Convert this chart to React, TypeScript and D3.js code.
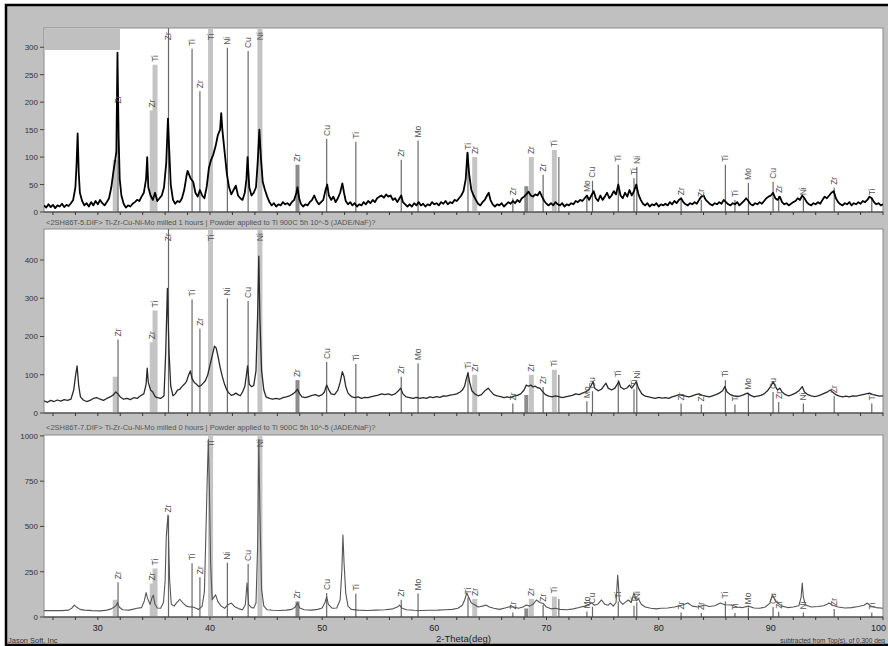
import React from "react";
import * as d3 from "d3";

// 2-theta range and tick labels
const thetaRange = [25.2, 100];
const thetaTicks = [30, 40, 50, 60, 70, 80, 90, 100];
const topTicks = [0, 50, 100, 150, 200, 250, 300];
const midTicks = [0, 100, 200, 300, 400];
const botTicks = [0, 250, 500, 750, 1000];

const midTitle =
  "<2SH86T-5.DIF> Ti-Zr-Cu-Ni-Mo milled 1 hours | Powder applied to Ti 900C 5h 10^-5 (JADE/NaF)?";
const botTitle =
  "<2SH86T-7.DIF> Ti-Zr-Cu-Ni-Mo milled 0 hours | Powder applied to Ti 900C 5h 10^-5 (JADE/NaF)?";

// scan 1 (top): [2-theta, counts]
const topPattern: [number, number][] = [
  [25.2, 12], [25.4, 8], [25.6, 14], [25.8, 9], [26.0, 13], [26.2, 7], [26.4, 12], [26.6, 10], [26.8, 15], [27.0, 9],
  [27.2, 13], [27.4, 11], [27.6, 16], [27.8, 22], [28.0, 45], [28.1, 85], [28.2, 143], [28.3, 70], [28.4, 35], [28.6, 20],
  [28.8, 12], [29.0, 16], [29.2, 10], [29.4, 18], [29.6, 12], [29.8, 20], [30.0, 14], [30.2, 22], [30.4, 16], [30.6, 12],
  [30.8, 18], [31.0, 25], [31.2, 45], [31.4, 75], [31.55, 95], [31.65, 110], [31.75, 290], [31.85, 140], [31.95, 60], [32.1, 30],
  [32.3, 15], [32.5, 8], [32.7, 12], [32.9, 10], [33.1, 15], [33.3, 18], [33.5, 22], [33.7, 20], [33.9, 28], [34.1, 35],
  [34.3, 60], [34.4, 100], [34.5, 45], [34.7, 30], [34.9, 22], [35.1, 35], [35.3, 20], [35.5, 25], [35.7, 30], [35.9, 45],
  [36.1, 90], [36.25, 170], [36.35, 120], [36.5, 50], [36.7, 22], [36.9, 15], [37.1, 20], [37.3, 18], [37.5, 25], [37.7, 40],
  [37.9, 65], [38.0, 75], [38.1, 70], [38.3, 60], [38.5, 55], [38.7, 35], [38.9, 28], [39.1, 40], [39.3, 30], [39.5, 25],
  [39.7, 45], [39.9, 80], [40.1, 95], [40.3, 105], [40.5, 120], [40.7, 140], [40.9, 150], [41.0, 180], [41.1, 150], [41.3, 110],
  [41.5, 70], [41.7, 45], [41.9, 32], [42.1, 40], [42.3, 48], [42.5, 30], [42.7, 25], [42.9, 22], [43.1, 35], [43.25, 60],
  [43.35, 100], [43.5, 45], [43.7, 30], [43.9, 35], [44.1, 45], [44.25, 90], [44.4, 150], [44.55, 95], [44.7, 55], [44.9, 40],
  [45.1, 28], [45.3, 18], [45.5, 12], [45.7, 16], [45.9, 10], [46.1, 14], [46.3, 12], [46.5, 18], [46.7, 14], [46.9, 16],
  [47.1, 12], [47.3, 18], [47.5, 22], [47.7, 35], [47.8, 45], [47.95, 25], [48.1, 15], [48.3, 10], [48.5, 14], [48.7, 12],
  [48.9, 18], [49.1, 22], [49.3, 30], [49.5, 20], [49.7, 14], [49.9, 18], [50.1, 22], [50.3, 40], [50.45, 50], [50.6, 30],
  [50.8, 22], [51.0, 28], [51.2, 18], [51.4, 25], [51.6, 35], [51.8, 52], [51.95, 35], [52.1, 20], [52.3, 14], [52.5, 18],
  [52.7, 12], [52.9, 16], [53.1, 10], [53.3, 14], [53.5, 12], [53.7, 18], [53.9, 14], [54.1, 20], [54.3, 16], [54.5, 22],
  [54.7, 18], [54.9, 25], [55.1, 28], [55.3, 30], [55.5, 26], [55.7, 32], [55.9, 28], [56.1, 30], [56.3, 22], [56.5, 25],
  [56.7, 18], [56.9, 25], [57.05, 30], [57.2, 18], [57.4, 14], [57.6, 10], [57.8, 14], [58.0, 10], [58.2, 16], [58.4, 12],
  [58.6, 18], [58.8, 12], [59.0, 15], [59.2, 10], [59.4, 14], [59.6, 12], [59.8, 18], [60.0, 14], [60.2, 16], [60.4, 12],
  [60.6, 18], [60.8, 15], [61.0, 20], [61.2, 14], [61.4, 18], [61.6, 16], [61.8, 22], [62.0, 20], [62.2, 25], [62.4, 30],
  [62.6, 38], [62.8, 60], [62.95, 108], [63.1, 70], [63.3, 40], [63.5, 30], [63.7, 22], [63.9, 15], [64.1, 12], [64.3, 18],
  [64.5, 22], [64.7, 30], [64.85, 35], [65.0, 22], [65.2, 14], [65.4, 10], [65.6, 14], [65.8, 12], [66.0, 16], [66.2, 10],
  [66.4, 14], [66.6, 18], [66.8, 15], [67.0, 20], [67.2, 16], [67.4, 22], [67.6, 18], [67.8, 25], [68.0, 28], [68.2, 32],
  [68.4, 37], [68.6, 30], [68.8, 28], [69.0, 32], [69.2, 30], [69.4, 37], [69.6, 28], [69.8, 20], [70.0, 15], [70.2, 12],
  [70.4, 16], [70.6, 12], [70.8, 18], [71.0, 14], [71.2, 12], [71.4, 16], [71.6, 10], [71.8, 14], [72.0, 12], [72.2, 16],
  [72.4, 14], [72.6, 20], [72.8, 18], [73.0, 22], [73.2, 20], [73.4, 25], [73.6, 30], [73.8, 22], [74.0, 30], [74.2, 38],
  [74.4, 25], [74.6, 20], [74.8, 30], [75.0, 22], [75.2, 28], [75.4, 35], [75.6, 25], [75.8, 30], [76.0, 38], [76.2, 32],
  [76.4, 50], [76.6, 30], [76.8, 25], [77.0, 35], [77.2, 28], [77.4, 40], [77.6, 30], [77.8, 38], [78.0, 50], [78.2, 32],
  [78.4, 22], [78.6, 15], [78.8, 12], [79.0, 16], [79.2, 10], [79.4, 14], [79.6, 12], [79.8, 16], [80.0, 10], [80.2, 14],
  [80.4, 12], [80.6, 15], [80.8, 12], [81.0, 18], [81.2, 14], [81.4, 20], [81.6, 16], [81.8, 22], [82.0, 25], [82.2, 18],
  [82.4, 14], [82.6, 12], [82.8, 16], [83.0, 14], [83.2, 18], [83.4, 15], [83.6, 22], [83.8, 28], [84.0, 30], [84.2, 22],
  [84.4, 18], [84.6, 14], [84.8, 12], [85.0, 16], [85.2, 14], [85.4, 18], [85.6, 15], [85.8, 22], [86.0, 18], [86.2, 14],
  [86.4, 12], [86.6, 16], [86.8, 14], [87.0, 18], [87.2, 12], [87.4, 16], [87.6, 20], [87.8, 25], [88.0, 20], [88.2, 14],
  [88.4, 12], [88.6, 16], [88.8, 14], [89.0, 18], [89.2, 15], [89.4, 20], [89.6, 25], [89.8, 28], [90.0, 30], [90.2, 35],
  [90.4, 25], [90.6, 22], [90.8, 28], [91.0, 18], [91.2, 14], [91.4, 16], [91.6, 12], [91.8, 15], [92.0, 18], [92.2, 20],
  [92.4, 25], [92.6, 22], [92.8, 30], [93.0, 25], [93.2, 18], [93.4, 14], [93.6, 12], [93.8, 16], [94.0, 14], [94.2, 18],
  [94.4, 15], [94.6, 22], [94.8, 28], [95.0, 25], [95.2, 30], [95.4, 35], [95.6, 38], [95.8, 25], [96.0, 18], [96.2, 14],
  [96.4, 12], [96.6, 16], [96.8, 14], [97.0, 18], [97.2, 12], [97.4, 16], [97.6, 14], [97.8, 18], [98.0, 15], [98.2, 20],
  [98.4, 18], [98.6, 22], [98.8, 28], [99.0, 25], [99.2, 18], [99.4, 14], [99.6, 16], [99.8, 12], [100.0, 14],
];

// scan 2 (middle)
const midPattern: [number, number][] = [
  [25.2, 32], [25.5, 28], [25.8, 33], [26.1, 30], [26.4, 34], [26.7, 31], [27.0, 35], [27.3, 33], [27.6, 36], [27.85, 60],
  [28.0, 95], [28.15, 123], [28.3, 70], [28.45, 42], [28.7, 34], [29.0, 30], [29.3, 33], [29.6, 38], [29.9, 40], [30.2, 36],
  [30.5, 33], [30.8, 38], [31.1, 42], [31.4, 48], [31.6, 55], [31.8, 50], [32.0, 42], [32.3, 36], [32.6, 38], [32.9, 35],
  [33.2, 40], [33.5, 38], [33.8, 45], [34.1, 50], [34.3, 75], [34.4, 117], [34.5, 80], [34.7, 60], [34.9, 55], [35.1, 43],
  [35.3, 40], [35.6, 38], [35.9, 45], [36.05, 157], [36.2, 326], [36.35, 157], [36.5, 70], [36.7, 45], [36.9, 50], [37.1, 60],
  [37.3, 62], [37.5, 69], [37.7, 75], [37.9, 82], [38.1, 100], [38.25, 110], [38.4, 90], [38.6, 80], [38.8, 75], [39.0, 69],
  [39.2, 72], [39.4, 78], [39.6, 85], [39.8, 100], [40.0, 125], [40.2, 150], [40.4, 175], [40.55, 170], [40.7, 150], [40.9, 120],
  [41.1, 95], [41.3, 75], [41.5, 60], [41.7, 52], [41.9, 46], [42.1, 48], [42.3, 52], [42.5, 48], [42.7, 45], [42.9, 55],
  [43.1, 69], [43.25, 100], [43.35, 123], [43.5, 75], [43.7, 69], [43.9, 72], [44.1, 110], [44.25, 260], [44.35, 410], [44.45, 243],
  [44.6, 110], [44.8, 60], [45.0, 42], [45.3, 38], [45.6, 36], [45.9, 38], [46.2, 36], [46.5, 40], [46.8, 42], [47.1, 45],
  [47.4, 50], [47.6, 55], [47.8, 62], [48.0, 50], [48.2, 42], [48.5, 40], [48.8, 43], [49.1, 46], [49.4, 48], [49.7, 44],
  [50.0, 48], [50.2, 55], [50.4, 73], [50.6, 60], [50.8, 50], [51.1, 48], [51.4, 60], [51.6, 80], [51.8, 108], [51.95, 95],
  [52.1, 70], [52.3, 52], [52.6, 43], [52.9, 40], [53.2, 42], [53.5, 38], [53.8, 41], [54.1, 40], [54.4, 43], [54.7, 45],
  [55.0, 47], [55.3, 50], [55.6, 48], [55.9, 50], [56.2, 47], [56.5, 50], [56.8, 58], [57.0, 65], [57.2, 50], [57.5, 42],
  [57.8, 40], [58.1, 38], [58.4, 41], [58.7, 38], [59.0, 40], [59.3, 38], [59.6, 42], [59.9, 40], [60.2, 43], [60.5, 41],
  [60.8, 45], [61.1, 44], [61.4, 47], [61.7, 48], [62.0, 50], [62.3, 55], [62.5, 60], [62.7, 70], [62.85, 90], [63.0, 104],
  [63.15, 80], [63.35, 58], [63.6, 50], [63.9, 45], [64.2, 48], [64.5, 58], [64.8, 65], [65.0, 58], [65.3, 48], [65.6, 45],
  [65.9, 43], [66.2, 40], [66.5, 42], [66.8, 40], [67.1, 44], [67.4, 46], [67.7, 50], [68.0, 60], [68.2, 73], [68.4, 70],
  [68.6, 73], [68.8, 68], [69.0, 70], [69.2, 66], [69.4, 65], [69.6, 58], [69.9, 48], [70.2, 44], [70.5, 42], [70.8, 45],
  [71.1, 43], [71.4, 40], [71.7, 42], [72.0, 44], [72.3, 46], [72.6, 50], [72.9, 48], [73.2, 52], [73.5, 55], [73.8, 62],
  [74.0, 73], [74.15, 82], [74.3, 65], [74.6, 58], [74.9, 62], [75.1, 70], [75.3, 78], [75.5, 65], [75.8, 60], [76.1, 65],
  [76.3, 75], [76.45, 82], [76.6, 68], [76.9, 62], [77.2, 66], [77.4, 73], [77.6, 65], [77.85, 75], [78.0, 82], [78.2, 65],
  [78.5, 50], [78.8, 44], [79.1, 42], [79.4, 40], [79.7, 38], [80.0, 41], [80.3, 39], [80.6, 40], [80.9, 38], [81.2, 42],
  [81.5, 45], [81.8, 48], [82.1, 46], [82.4, 44], [82.7, 42], [83.0, 45], [83.3, 48], [83.6, 50], [83.9, 46], [84.2, 44],
  [84.5, 42], [84.8, 45], [85.1, 48], [85.4, 52], [85.7, 58], [85.9, 69], [86.1, 55], [86.4, 48], [86.7, 45], [87.0, 43],
  [87.3, 45], [87.6, 48], [87.9, 52], [88.2, 46], [88.5, 42], [88.8, 44], [89.1, 46], [89.4, 50], [89.7, 58], [90.0, 70],
  [90.2, 82], [90.4, 70], [90.6, 60], [90.8, 65], [91.0, 55], [91.3, 48], [91.6, 45], [91.9, 48], [92.2, 52], [92.5, 58],
  [92.8, 69], [93.0, 55], [93.3, 48], [93.6, 45], [93.9, 43], [94.2, 45], [94.5, 48], [94.8, 52], [95.1, 56], [95.3, 60],
  [95.5, 55], [95.8, 48], [96.1, 44], [96.4, 42], [96.7, 44], [97.0, 42], [97.3, 45], [97.6, 44], [97.9, 46], [98.2, 48],
  [98.5, 50], [98.8, 52], [99.1, 48], [99.4, 46], [99.7, 44], [100.0, 45],
];

// scan 3 (bottom)
const botPattern: [number, number][] = [
  [25.2, 35], [26.0, 36], [26.8, 35], [27.4, 38], [27.7, 50], [27.9, 66], [28.1, 55], [28.4, 42], [28.8, 38], [29.5, 35],
  [30.2, 34], [30.8, 38], [31.2, 45], [31.5, 57], [31.65, 65], [31.75, 80], [31.9, 55], [32.2, 40], [32.8, 38], [33.5, 48],
  [33.9, 52], [34.15, 90], [34.3, 135], [34.45, 100], [34.65, 70], [34.85, 110], [34.95, 120], [35.1, 70], [35.3, 50], [35.6, 48],
  [35.85, 80], [36.0, 200], [36.1, 443], [36.25, 563], [36.4, 204], [36.55, 70], [36.8, 60], [37.0, 77], [37.3, 98], [37.6, 77],
  [37.9, 60], [38.2, 55], [38.4, 57], [38.7, 50], [39.0, 42], [39.3, 60], [39.5, 140], [39.65, 500], [39.75, 757], [39.85, 980],
  [39.95, 700], [40.05, 300], [40.2, 95], [40.35, 110], [40.5, 122], [40.7, 85], [41.0, 60], [41.3, 48], [41.6, 68], [41.9, 77],
  [42.2, 57], [42.6, 45], [42.9, 40], [43.15, 68], [43.3, 188], [43.45, 68], [43.7, 52], [43.9, 50], [44.1, 77], [44.25, 400],
  [44.35, 980], [44.45, 575], [44.6, 150], [44.8, 60], [45.1, 40], [45.6, 37], [46.2, 36], [46.8, 38], [47.3, 42], [47.6, 55],
  [47.8, 77], [48.0, 50], [48.4, 40], [49.0, 38], [49.6, 42], [50.0, 50], [50.25, 80], [50.4, 112], [50.55, 70], [50.9, 48],
  [51.3, 50], [51.6, 94], [51.75, 250], [51.85, 453], [51.95, 300], [52.1, 133], [52.3, 60], [52.6, 42], [53.2, 38], [54.0, 36],
  [54.8, 38], [55.6, 40], [56.3, 45], [56.7, 55], [56.9, 66], [57.1, 50], [57.5, 40], [58.2, 37], [58.8, 36], [59.5, 37],
  [60.3, 38], [61.0, 40], [61.6, 42], [62.1, 48], [62.5, 65], [62.7, 94], [62.9, 133], [63.05, 110], [63.3, 77], [63.6, 68],
  [63.9, 55], [64.3, 60], [64.6, 66], [64.9, 55], [65.3, 48], [65.8, 42], [66.3, 50], [66.7, 57], [67.1, 55], [67.5, 48],
  [67.9, 55], [68.2, 66], [68.5, 60], [68.8, 70], [69.1, 94], [69.4, 80], [69.7, 75], [70.0, 55], [70.4, 45], [70.8, 48],
  [71.2, 42], [71.8, 40], [72.4, 45], [72.9, 52], [73.4, 60], [73.8, 70], [74.0, 77], [74.3, 65], [74.6, 72], [74.9, 94],
  [75.2, 70], [75.5, 65], [75.7, 77], [75.95, 60], [76.2, 80], [76.35, 232], [76.5, 90], [76.8, 70], [77.1, 85], [77.3, 94],
  [77.55, 80], [77.8, 133], [78.0, 90], [78.2, 100], [78.45, 70], [78.8, 55], [79.3, 48], [79.8, 45], [80.2, 48], [80.8, 50],
  [81.4, 55], [81.9, 62], [82.3, 70], [82.6, 77], [83.0, 60], [83.5, 55], [84.1, 66], [84.5, 58], [85.0, 62], [85.5, 77],
  [85.9, 68], [86.5, 66], [87.0, 55], [87.5, 52], [88.0, 60], [88.5, 50], [89.0, 48], [89.5, 55], [89.9, 75], [90.15, 122],
  [90.4, 90], [90.6, 77], [91.0, 60], [91.5, 52], [92.0, 55], [92.5, 62], [92.7, 110], [92.8, 188], [92.9, 110], [93.1, 66],
  [93.6, 55], [94.2, 58], [94.7, 62], [95.0, 70], [95.2, 77], [95.5, 65], [96.0, 55], [96.6, 50], [97.2, 52], [97.8, 58],
  [98.3, 65], [98.6, 77], [98.9, 60], [99.4, 52], [100.0, 48],
];

// reference pattern sticks: [2-theta, intensity, phase label, kind]
const sticks: [number, number, string, string][] = [
  [31.55, 95, "", "bar"],
  [31.8, 192, "Zr", "line"],
  [34.85, 185, "Zr", "bar"],
  [35.1, 268, "Ti", "bar"],
  [36.3, 560, "Zr", "line"],
  [38.4, 297, "Ti", "line"],
  [39.1, 220, "Zr", "line"],
  [40.05, 1000, "Ti", "bar"],
  [41.55, 299, "Ni", "line"],
  [43.4, 293, "Cu", "line"],
  [44.45, 1000, "Ni", "bar"],
  [47.8, 86, "Zr", "dark"],
  [50.4, 133, "Cu", "line"],
  [53.0, 128, "Ti", "line"],
  [57.05, 95, "Zr", "line"],
  [58.55, 130, "Mo", "line"],
  [63.0, 108, "Ti", "line"],
  [63.6, 100, "Zr", "bar"],
  [67.0, 25, "Zr", "line"],
  [68.2, 47, "", "dark"],
  [68.65, 100, "Zr", "bar"],
  [69.7, 68, "Zr", "line"],
  [70.7, 113, "Ti", "bar"],
  [71.1, 100, "", "line"],
  [73.6, 31, "Mo", "line"],
  [74.1, 57, "Cu", "line"],
  [76.4, 86, "Ti", "line"],
  [77.8, 62, "Ti", "line"],
  [78.05, 82, "Ni", "line"],
  [82.0, 25, "Zr", "line"],
  [83.8, 22, "Zr", "line"],
  [85.95, 86, "Ti", "line"],
  [86.8, 22, "Ti", "line"],
  [88.0, 53, "Mo", "line"],
  [90.2, 55, "Cu", "line"],
  [90.7, 29, "Zr", "line"],
  [92.9, 25, "Ni", "line"],
  [95.65, 44, "Zr", "line"],
  [99.0, 25, "Ti", "line"],
];

const W = 888;
const H = 646;
const L = 44;
const R = 883;
const font = "'Liberation Sans', Arial, sans-serif";

const panels = [
  { id: "p1", top: 28, bottom: 212, max: 335, ticks: topTicks, data: topPattern, color: "#000", lw: 1.8 },
  { id: "p2", top: 229, bottom: 413, max: 481, ticks: midTicks, data: midPattern, color: "#2a2a2a", lw: 1.3 },
  { id: "p3", top: 435, bottom: 617, max: 1005, ticks: botTicks, data: botPattern, color: "#555", lw: 1.1 },
];

const stickStyle: Record<string, { stroke: string; width: number }> = {
  line: { stroke: "#6a6a6a", width: 1.2 },
  bar: { stroke: "#c4c4c4", width: 5 },
  dark: { stroke: "#8c8c8c", width: 4 },
};

const x = d3.scaleLinear().domain(thetaRange).range([L, R]);
const minorTicks = d3.range(26, 100.1, 2);

const Panel = ({ p }: { p: (typeof panels)[number] }) => {
  const y = d3.scaleLinear().domain([0, p.max]).range([p.bottom, p.top]);
  const line = d3
    .line<[number, number]>()
    .x((d) => x(d[0]))
    .y((d) => y(d[1]));
  const fs = 8.5;
  return (
    <g>
      <clipPath id={"clip-" + p.id}>
        <rect x={L} y={p.top} width={R - L} height={p.bottom - p.top} />
      </clipPath>
      <rect x={L} y={p.top} width={R - L} height={p.bottom - p.top} fill="#fff" stroke="#8a8a8a" />
      <g clipPath={`url(#clip-${p.id})`}>
        {p.id === "p1" && <rect x={L} y={p.top + 1} width={76} height={21} fill="#c0c0c0" />}
        {sticks.map(([t, v, , kind], i) => (
          <line
            key={i}
            x1={x(t)}
            x2={x(t)}
            y1={p.bottom}
            y2={y(v)}
            stroke={stickStyle[kind].stroke}
            strokeWidth={stickStyle[kind].width}
          />
        ))}
        <path d={line(p.data) || ""} fill="none" stroke={p.color} strokeWidth={p.lw} strokeLinejoin="round" />
        {sticks
          .filter((s) => s[2])
          .map(([t, v, label], i) => {
            const len = label.length * fs * 0.6;
            let ty = y(v) - 3;
            if (ty - len < p.top + 2) ty = p.top + 2 + len;
            return (
              <text
                key={i}
                transform={`translate(${x(t) + fs * 0.35},${ty}) rotate(-90)`}
                fontSize={fs}
                fontFamily={font}
                fill="#555"
              >
                {label}
              </text>
            );
          })}
      </g>
      <line x1={L} x2={R} y1={p.bottom} y2={p.bottom} stroke="#333" strokeWidth={1.2} />
      {minorTicks.map((t) => (
        <line key={t} x1={x(t)} x2={x(t)} y1={p.bottom} y2={p.bottom + 3} stroke="#333" />
      ))}
      {p.ticks.map((v) => (
        <g key={v}>
          <line x1={L - 4} x2={L} y1={y(v)} y2={y(v)} stroke="#444" />
          <text x={L - 6} y={y(v) + 3} textAnchor="end" fontSize={8} fontFamily={font} fill="#333">
            {v}
          </text>
        </g>
      ))}
    </g>
  );
};

export default function App() {
  return (
    <svg width={W} height={H} style={{ position: "absolute", left: 0, top: 0 }}>
      <rect x={0} y={0} width={W} height={H} fill="#fff" />
      <rect x={6} y={5} width={W} height={640} fill="#c0c0c0" stroke="#000" strokeWidth={2.5} />
      {panels.map((p) => (
        <Panel key={p.id} p={p} />
      ))}
      <text x={L + 2} y={225} fontSize={7.5} fontFamily={font} fill="#555">
        {midTitle}
      </text>
      <text x={L + 2} y={430} fontSize={7.5} fontFamily={font} fill="#555">
        {botTitle}
      </text>
      {thetaTicks.map((t, i) => {
        const last = i === thetaTicks.length - 1;
        return (
          <text
            key={t}
            x={last ? x(t) + 3 : x(t)}
            y={631}
            textAnchor={last ? "end" : "middle"}
            fontSize={9}
            fontFamily={font}
            fill="#222"
          >
            {t}
          </text>
        );
      })}
      <text x={x(62.6)} y={642} textAnchor="middle" fontSize={9.5} fontFamily={font} fill="#222">
        2-Theta(deg)
      </text>
      <text x={8} y={643} fontSize={7.5} fontFamily={font} fill="#333">
        Jason Soft, Inc
      </text>
      <text x={885} y={643} textAnchor="end" fontSize={6.5} fontFamily={font} fill="#333">
        subtracted from Top(s), of 0.300 deg
      </text>
    </svg>
  );
}
